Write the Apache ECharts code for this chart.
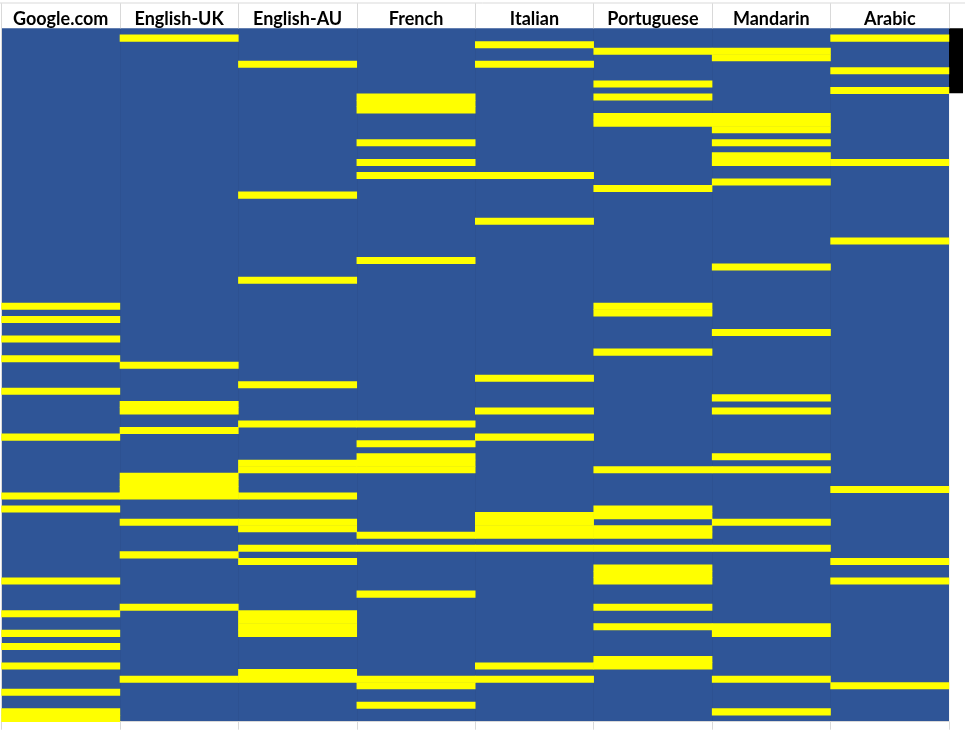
<!DOCTYPE html>
<html>
<head>
<meta charset="utf-8">
<title>Language rows</title>
<script src="https://cdn.jsdelivr.net/npm/echarts@6/dist/echarts.min.js"></script>
<style>
    html, body { margin: 0; padding: 0; background: #fff; }
    #main { width: 965px; height: 730px; }
</style>
</head>
<body>
<div id="main"></div>
<script>
// column headers
var columns = ['Google.com', 'English-UK', 'English-AU', 'French', 'Italian', 'Portuguese', 'Mandarin', 'Arabic'];
var rowCount = 106;

// highlighted rows per column (0 = top row)
var googleRows = [42, 44, 47, 50, 55, 62, 71, 73, 84, 89, 92, 94, 97, 101, 104, 105];
var englishUkRows = [1, 51, 57, 58, 61, 68, 69, 70, 71, 75, 80, 88, 99];
var englishAuRows = [5, 25, 38, 54, 60, 66, 67, 71, 75, 76, 79, 81, 89, 90, 91, 92, 98, 99];
var frenchRows = [10, 11, 12, 17, 20, 22, 35, 60, 63, 65, 66, 67, 77, 79, 86, 99, 100, 103];
var italianRows = [2, 5, 22, 29, 53, 58, 62, 74, 75, 76, 77, 79, 97, 99];
var portugueseRows = [3, 8, 10, 13, 14, 24, 42, 43, 49, 67, 73, 74, 76, 77, 79, 82, 83, 84, 88, 91, 96, 97];
var mandarinRows = [3, 4, 13, 14, 15, 17, 19, 20, 23, 36, 46, 56, 58, 65, 67, 75, 79, 91, 92, 99, 104];
var arabicRows = [1, 6, 9, 20, 32, 70, 81, 84, 100];

var allRows = [googleRows, englishUkRows, englishAuRows, frenchRows, italianRows, portugueseRows, mandarinRows, arabicRows];

var rowNames = [];
for (var r = 0; r < rowCount; r++) {
    rowNames.push(String(r + 1));
}

var cells = [];
allRows.forEach(function (list, col) {
    list.forEach(function (row) {
        cells.push([col, row, 1]);
    });
});

var dom = document.getElementById('main');
var myChart = echarts.init(dom);
var option = {
    backgroundColor: '#ffffff',
    animation: false,
    grid: {
        left: 1.5,
        right: 16,
        top: 28.3,
        bottom: 8.3,
        show: true,
        backgroundColor: '#2F5597',
        borderWidth: 0
    },
    xAxis: [{
        type: 'category',
        position: 'top',
        data: columns,
        axisLine: { show: false },
        axisTick: {
            show: true,
            interval: 0,
            alignWithLabel: false,
            length: 25,
            lineStyle: { color: '#d9d9d9', width: 1 }
        },
        axisLabel: {
            interval: 0,
            hideOverlap: false,
            margin: 0,
            fontFamily: 'Lato',
            fontWeight: 'bold',
            fontSize: 18,
            color: '#000'
        },
        splitLine: {
            show: true,
            interval: 0,
            lineStyle: { color: 'rgba(0,0,0,0.04)', width: 1 }
        }
    }, {
        type: 'category',
        position: 'bottom',
        data: columns,
        axisLine: { show: true, lineStyle: { color: '#d9d9d9' } },
        axisTick: {
            show: true,
            interval: 0,
            length: 8,
            lineStyle: { color: '#d9d9d9' }
        },
        axisLabel: { show: false }
    }],
    yAxis: {
        type: 'category',
        data: rowNames,
        inverse: true,
        axisLine: { show: true, lineStyle: { color: '#d9d9d9' } },
        axisTick: { show: false },
        axisLabel: { show: false },
        splitLine: { show: false }
    },
    series: [{
        type: 'heatmap',
        data: cells,
        itemStyle: { color: '#FFFF00', borderWidth: 0 },
        emphasis: { disabled: true }
    }],
    graphic: [{
        type: 'line',
        shape: { x1: 0, y1: 3, x2: 965, y2: 3 },
        style: { stroke: '#d9d9d9', lineWidth: 1 }
    }, {
        type: 'rect',
        shape: { x: 949, y: 28.3, width: 14, height: 65 },
        style: { fill: '#000' }
    }]
};
if (option && typeof option === "object") {
    myChart.setOption(option, true);
}
</script>
</body>
</html>
